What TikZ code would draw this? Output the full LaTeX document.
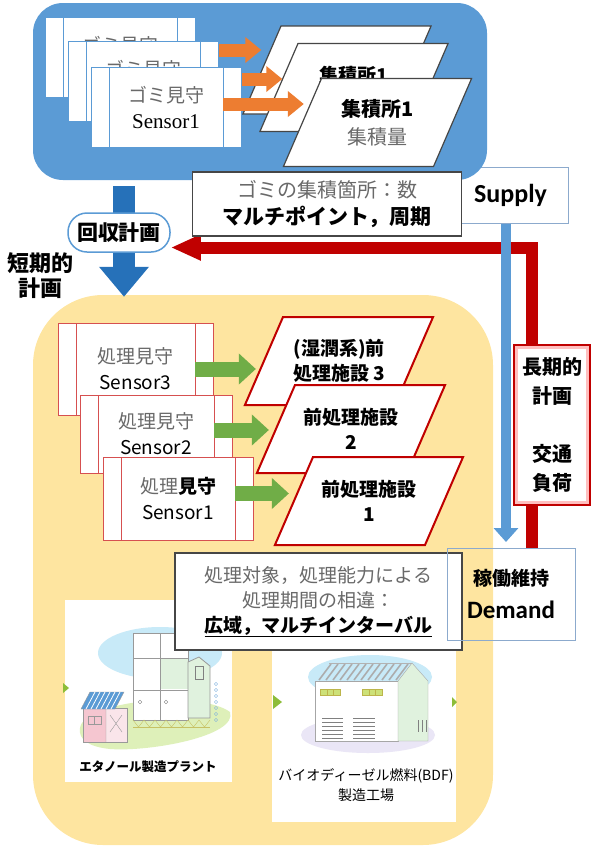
\documentclass[tikz,border=0pt]{standalone}
\usepackage{fontspec}
\usetikzlibrary{arrows.meta,shapes.geometric,calc}

\newfontfamily\jp{Noto Sans CJK JP}
\newfontfamily\lat{Carlito}
\newfontfamily\tms{Liberation Serif}
\newcommand\setfs[2]{\fontsize{#1}{#2}\selectfont}
% fixed text box, so the slanted sides of a site keep their angle
\newcommand\sitetext[1]{\parbox[c][88pt][c]{112pt}{\centering #1}}

\definecolor{gomiblue}{RGB}{91,155,213}
\definecolor{downblue}{RGB}{38,113,185}
\definecolor{edgeblue}{RGB}{140,170,205}
\definecolor{gomiorange}{RGB}{237,125,49}
\definecolor{procgreen}{RGB}{112,173,71}
\definecolor{procred}{RGB}{192,0,0}
\definecolor{cardred}{RGB}{214,80,80}
\definecolor{procyellow}{RGB}{254,229,160}
\definecolor{mincho}{RGB}{105,105,105}
\definecolor{boxgray}{RGB}{70,70,70}
\definecolor{skyblob}{RGB}{200,234,248}
\definecolor{grass}{RGB}{222,240,185}
\definecolor{pinkwall}{RGB}{245,198,208}
\definecolor{lavender}{RGB}{234,230,246}
\definecolor{palegreen}{RGB}{224,242,222}
\definecolor{winyellow}{RGB}{205,225,120}

\tikzset{
  sensorcard/.style={draw=#1, fill=white, inner sep=0pt, align=center,
    minimum width=150pt, minimum height=80pt, font=\jp\setfs{19}{26},
    path picture={
      \draw[#1] ([xshift=18pt]path picture bounding box.north west) -- ([xshift=18pt]path picture bounding box.south west)
                ([xshift=-18pt]path picture bounding box.north east) -- ([xshift=-18pt]path picture bounding box.south east);}},
  site/.style={trapezium, trapezium left angle=66.6, trapezium right angle=113.4,
    inner sep=0pt, fill=white, font=\jp\bfseries\setfs{19}{25}},
  gomisite/.style={site, draw=boxgray, line width=1.2pt},
  procsite/.style={site, draw=procred, line width=2pt},
  memo/.style={draw=boxgray, line width=1.2pt, fill=white, inner sep=0pt, align=center, font=\jp\setfs{19}{25}},
  tag/.style={draw=edgeblue, line width=1pt, inner sep=0pt, align=center},
  gomiarrow/.style={draw=gomiorange, line width=13pt, -{Triangle[width=25pt,length=16pt]}},
  procarrow/.style={draw=procgreen, line width=15pt, -{Triangle[width=30pt,length=17pt]}},
  plant/.style={fill=white, inner sep=0pt},
}

\begin{document}
\begin{tikzpicture}[x=1pt,y=-1pt]
\useasboundingbox (0,0) rectangle (590,847);

% supply label, partly under the blue area
\node[tag, fill=white, minimum width=115pt, minimum height=56pt, font=\lat\bfseries\setfs{26}{30}] (sup) at (510.5,195) {Supply};

% collection area (blue) and treatment area (yellow)
\node[fill=gomiblue, rounded corners=30pt, minimum width=454pt, minimum height=177pt] (collect) at (260,91.5) {};
\node[fill=procyellow, rounded corners=70pt, minimum width=460pt, minimum height=550pt] (treat) at (263,570) {};

% short-term plan
\draw[downblue, line width=22pt, -{Triangle[width=48pt,length=30pt]}] ([xshift=-136pt,yshift=-6pt]collect.south) -- ([xshift=-139pt,yshift=-2pt]treat.north);
\node[draw=gomiblue, line width=1.5pt, fill=white, rounded corners=19pt, minimum width=102pt, minimum height=39pt, inner sep=0pt, font=\jp\bfseries\setfs{21}{25}] (plan) at (119,232.5) {回収計画};
\node[align=center, font=\jp\bfseries\setfs{22}{25}] (short) at (41,276) {短期的\\計画};

% long-term loop and supply/demand link
\coordinate (demtop) at (532,548);
\coordinate (demin) at (506,542);
\draw[procred, line width=12pt, -{Triangle[width=24pt,length=30pt]}] (demtop) |- ([yshift=-15pt]plan.east);
\draw[gomiblue, line width=10pt, -{Triangle[width=24pt,length=14pt]}] ([xshift=-4.5pt]sup.south) -- (demin);

\node[memo, minimum width=269pt, minimum height=64pt, font=\jp\setfs{20}{27}] (amount) at (327,204)
  {{\color{mincho}ゴミの集積箇所：数}\\{\bfseries\setfs{21}{27}マルチポイント，周期}};

% collection points
\node[gomisite] (b3) at (337,70) {\sitetext{\phantom{集積所1}\\\phantom{集積量}}};
\node[gomisite] (b2) at (354,87.5) {\sitetext{集積所1\\\phantom{集積量}}};
\node[gomisite, font=\jp\bfseries\setfs{20}{28}] (b1) at (377.5,122.5) {\sitetext{集積所1\\{\mdseries\color{mincho}集積量}}};

% garbage sensors
\node[sensorcard=gomiblue] (c3) at (120,57) {{\color{mincho}ゴミ見守}\\{\tms\setfs{21}{26}\phantom{Sensor3}}};
\draw[gomiarrow] ([xshift=-18pt,yshift=7pt]c3.east) -- ($(c3.east -| b3.west)+(0,-7)$);
\node[sensorcard=gomiblue] (c2) at (143,81) {{\color{mincho}ゴミ見守}\\{\tms\setfs{21}{26}\phantom{Sensor2}}};
\draw[gomiarrow] ([xshift=-18pt,yshift=2pt]c2.east) -- ($(c2.east -| b2.west)+(4,-2)$);
\node[sensorcard=gomiblue] (c1) at (166,107) {{\color{mincho}ゴミ見守}\\{\tms\setfs{21}{26}Sensor1}};
\draw[gomiarrow] ([xshift=-18pt,yshift=3pt]c1.east) -- ($(c1.east -| b1.west)+(2,-3)$);

% pre-treatment facilities
\node[procsite] (p3) at (339,361) {\sitetext{(湿潤系)前\\処理施設 3}};
\node[procsite] (p2) at (351,429) {\sitetext{前処理施設\\2}};
\node[procsite] (p1) at (369,501) {\sitetext{前処理施設\\1}};

% treatment sensors
\node[sensorcard=cardred, minimum width=155pt, minimum height=92pt] (s3) at (135.5,369) {{\color{mincho}処理見守}\\Sensor3};
\draw[procarrow] ([xshift=-18pt]s3.east) -- ($(s3.east -| p3.west)+(-7,0)$);
\node[sensorcard=cardred, minimum width=152pt, minimum height=78pt] (s2) at (156,434) {{\color{mincho}処理見守}\\Sensor2};
\draw[procarrow] ([xshift=-18pt,yshift=4pt]s2.east) -- ($(s2.east -| p2.west)+(-6,-4)$);
\node[sensorcard=cardred, minimum width=150pt, minimum height=83pt] (s1) at (178,498.5) {{\color{mincho}処理}{\bfseries 見守}\\Sensor1};
\draw[procarrow] ([xshift=-18pt,yshift=5pt]s1.east) -- ($(s1.east -| p1.west)+(-4,-5)$);

% plants
\node[plant, minimum width=167pt, minimum height=182pt] (ethanol) at (148.5,691) {};
\node[plant, minimum width=184pt, minimum height=219pt] (bdf) at (364,712.5) {};

% ethanol plant
\fill[skyblob] (160,653) ellipse (62 and 26);
\fill[grass] (80,728) .. controls (84,700) and (200,690) .. (230,712) .. controls (238,736) and (150,752) .. (110,749) .. controls (90,747) and (78,740) .. (80,728) -- cycle;
\filldraw[fill=white, draw=gray!80, line width=0.8pt] (133,633) rectangle (188,720);
\fill[palegreen] (161,659) rectangle (188,689);
\draw[gray!80, line width=0.8pt] (133,633) rectangle (188,720) (160,633) -- (160,720) (133,658) -- (188,658) (133,690) -- (188,690);
\draw[gray] (140,702) circle (1.8) (166,702) circle (1.8);
\filldraw[fill=palegreen, draw=gray!80, line width=0.8pt] (188,662) -- (199,657) -- (210,666) -- (210,718) -- (188,718) -- cycle;
\draw[gray] (195,666) rectangle (203,679);
\foreach \j in {0,...,6} \draw[gomiblue!80] (216,684+6*\j) circle (1.7);
\draw[olive!50] (133,720) \foreach \k in {0,...,6} { -- ++(5.5,7) -- ++(5.5,-7)};
\draw[olive!50] (133,727) -- (210,727);
\filldraw[fill=pinkwall, draw=gray!80] (83,708) rectangle (127,742);
\fill[pinkwall!45] (106,709) rectangle (126.5,741.5);
\draw[gray!80] (106,708) -- (106,742) (110,715) -- (122,732) (122,715) -- (110,732);
\draw[gray!80] (88,716) rectangle (101,724) (94.5,716) -- (94.5,724);
\filldraw[fill=gomiblue, draw=gray!80] (81,709) -- (90,692) -- (124,692) -- (115,709) -- cycle;
\foreach \i in {0,...,5} \draw[white, line width=0.8pt] (86+5*\i,709) -- (95+5*\i,692);
\node[font=\jp\bfseries\setfs{12.5}{15}] (ethcap) at (148,767) {エタノール製造プラント};

% BDF plant
\fill[skyblob] (370,677) ellipse (62 and 22);
\fill[lavender] (368,735) ellipse (67 and 18);
\filldraw[fill=white, draw=gray!70] (315,681) rectangle (398,741);
\filldraw[fill=palegreen, draw=gray!70] (398,681) -- (412,663) -- (428,681) -- (428,741) -- (398,741) -- cycle;
\foreach \k in {0,...,11} \draw[gray!65, line width=1.6pt] (319+7*\k,680) -- (331+7*\k,664);
\draw[gray!60] (329,663) -- (412,663);
\filldraw[fill=winyellow, draw=olive!60] (320,689) rectangle (340,695) (362,689) rectangle (382,695);
\draw[olive!60] (326.7,689) -- (326.7,695) (333.3,689) -- (333.3,695) (368.7,689) -- (368.7,695) (375.3,689) -- (375.3,695);
\foreach \j in {0,...,5} \draw[gray] (322,718+4*\j) -- (343,718+4*\j) (353,718+4*\j) -- (375,718+4*\j);
\draw[gray] (418,720) -- (418,732) (422,720) -- (422,732) (426,720) -- (426,732);
\node[font=\jp\setfs{14}{20}, align=center] (bdfcap) at (366,785) {バイオディーゼル燃料(BDF)\\製造工場};

% arrow tips between the plants
\fill[procgreen!80!yellow] (63,683) -- (69,688) -- (63,693) -- cycle;
\fill[procgreen!80!yellow] (273,695) -- (282,702) -- (273,709) -- cycle;
\fill[procgreen!80!yellow] (452,697) -- (457,702) -- (452,707) -- cycle;

\node[memo, minimum width=287pt, minimum height=97pt] (period) at (318.5,601.5)
  {{\color{mincho}処理対象，処理能力による}\\{\color{mincho}処理期間の相違：}\\{\bfseries\underline{広域，マルチインターバル}}};

% long-term plan
\node[draw=procred, line width=2.5pt, fill=white, minimum width=76pt, minimum height=160pt, inner sep=0pt, align=center, font=\jp\bfseries\setfs{20}{29},
  path picture={\draw[red!25, line width=8pt] (path picture bounding box.north west) rectangle (path picture bounding box.south east);}] (long) at (552,425) {長期的\\計画\\[29pt]交通\\負荷};

\node[tag, minimum width=128pt, minimum height=92pt, font=\jp\bfseries\setfs{19}{33}] (dem) at (511,594) {稼働維持\\{\lat\setfs{25}{33}Demand}};

\end{tikzpicture}
\end{document}
